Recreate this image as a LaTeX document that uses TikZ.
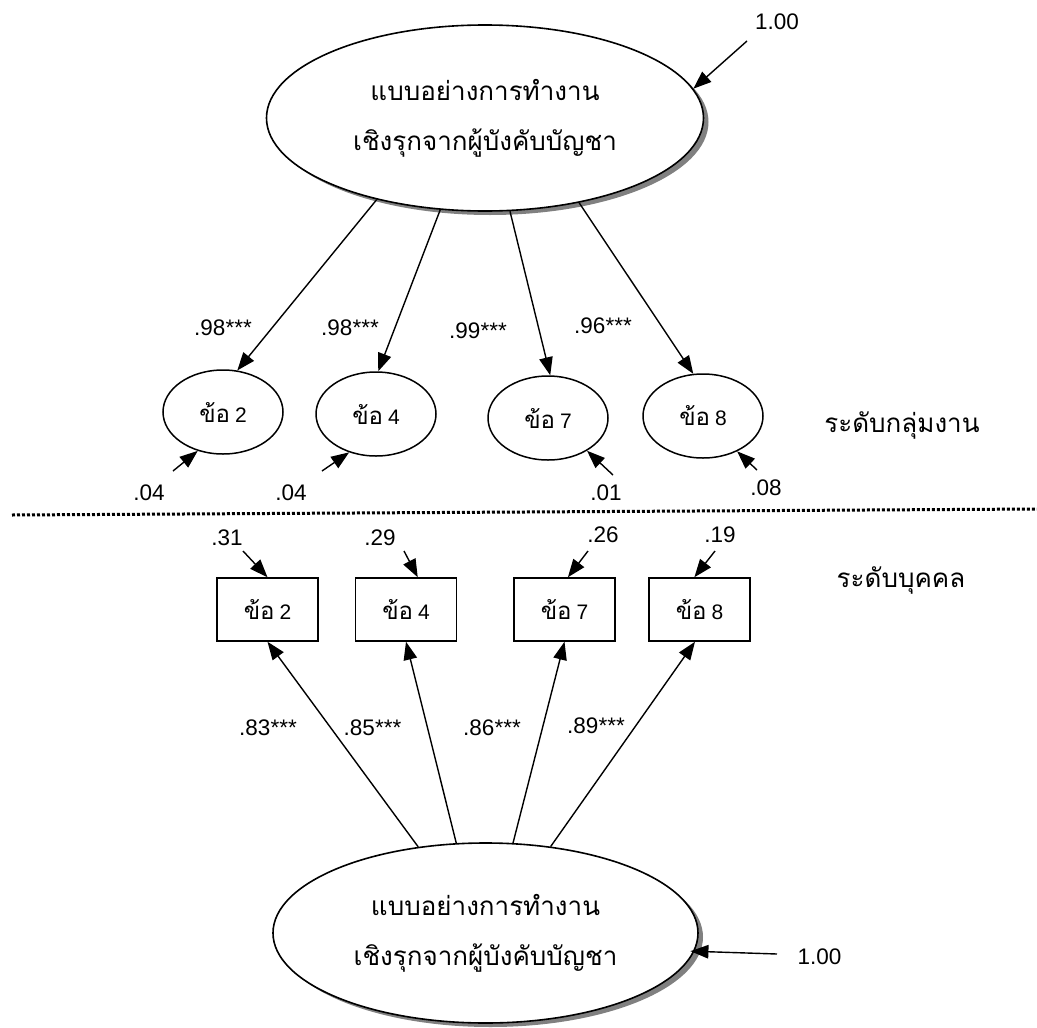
\documentclass[tikz,border=0pt]{standalone}
\usepackage{fontspec}
\setmainfont{Liberation Sans}
\newfontfamily\thaifont[Script=Thai]{Loma}
\usetikzlibrary{arrows.meta,shapes.geometric,shadows}
\newcommand{\khoitem}[1]{{\thaifont\fontsize{24}{26}\selectfont ข้อ}\hspace{5pt}{\fontsize{21}{24}\selectfont #1}}
\begin{document}
\begin{tikzpicture}[x=1pt,y=-1pt,
  arr/.style={-{Triangle[length=18pt,width=13.5pt]}, line width=1.4pt},
  bigell/.style={ellipse, draw, line width=1.6pt, fill=white, inner sep=0pt,
    drop shadow={shadow xshift=5pt, shadow yshift=-4pt, fill=black!50, opacity=1},
    align=center, font=\thaifont\fontsize{26}{50}\selectfont},
  smallell/.style={ellipse, draw, line width=1.5pt, minimum width=120pt, minimum height=84pt, inner sep=0pt},
  obsbox/.style={rectangle, draw, line width=1.5pt, minimum width=101pt, minimum height=63pt, inner sep=0pt},
  num/.style={font=\fontsize{22.5}{27}\selectfont, anchor=base, inner sep=0pt},
  thlab/.style={font=\thaifont\fontsize{26}{30}\selectfont, anchor=base, inner sep=0pt},
]
\path[use as bounding box] (0,0) rectangle (1037,1028);

% ---------- group level ----------
\node[bigell, minimum width=437pt, minimum height=186pt] (top) at (485,118)
  {แบบอย่างการทำงาน\\เชิงรุกจากผู้บังคับบัญชา};
\node[num] (e0) at (777,29) {1.00};
\coordinate (t0) at (747,41);
\draw[arr] (t0) -- (top.8.4);

\node[smallell] (g2) at (223,412) {\khoitem{2}};
\node[smallell] (g4) at (376,414) {\khoitem{4}};
\node[smallell] (g7) at (548,418) {\khoitem{7}};
\node[smallell] (g8) at (703,416) {\khoitem{8}};

\draw[arr] (top.217.8) -- (g2.71.6);
\draw[arr] (top.244.9) -- (g4.87);
\draw[arr] (top.285.9) -- (g7.87.5);
\draw[arr] (top.318.6) -- (g8.103.7);

\node[num] (l2) at (223,335) {.98***};
\node[num] (l4) at (350,335) {.98***};
\node[num] (l7) at (478,338) {.99***};
\node[num] (l8) at (603,333) {.96***};

\node[num] (r2) at (149,500) {.04};
\node[num] (r4) at (291,500) {.04};
\node[num] (r7) at (606,500) {.01};
\node[num] (r8) at (766,495) {.08};
\coordinate (u2) at (173,471);
\coordinate (u4) at (322,471);
\coordinate (u7) at (613,475);
\coordinate (u8) at (757,470);
\draw[arr] (u2) -- (g2.237);
\draw[arr] (u4) -- (g4.235.6);
\draw[arr] (u7) -- (g7.320);
\draw[arr] (u8) -- (g8.314);

\node[thlab] (lvl1) at (902,432) {ระดับกลุ่มงาน};

% ---------- separator ----------
\coordinate (sepL) at (12,515);
\coordinate (sepR) at (1037,509);
\draw[line width=3pt, dash pattern=on 3pt off 2pt] (sepL) -- (sepR);

% ---------- individual level ----------
\node[thlab] (lvl2) at (901,587) {ระดับบุคคล};

\node[obsbox] (i2) at (267.5,609.5) {\khoitem{2}};
\node[obsbox] (i4) at (406,609.5) {\khoitem{4}};
\node[obsbox] (i7) at (564.5,609.5) {\khoitem{7}};
\node[obsbox] (i8) at (699.5,609.5) {\khoitem{8}};

\node[num] (q2) at (227,545) {.31};
\node[num] (q4) at (380,545) {.29};
\node[num] (q7) at (603,542) {.26};
\node[num] (q8) at (720,542) {.19};
\coordinate (v2) at (243,551);
\coordinate (v4) at (404,551);
\coordinate (v7) at (588,551);
\coordinate (v8) at (715,551);
\draw[arr] (v2) -- (i2.north);
\draw[arr] (v4) -- (i4.70.7);
\draw[arr] (v7) -- (i7.84.6);
\draw[arr] (v8) -- (i8.99);

\node[bigell, minimum width=425pt, minimum height=180pt] (bot) at (485.5,933)
  {แบบอย่างการทำงาน\\เชิงรุกจากผู้บังคับบัญชา};

\draw[arr] (bot.128.9) -- (i2.south);
\draw[arr] (bot.108.9) -- (i4.south);
\draw[arr] (bot.73.5) -- (i7.south);
\draw[arr] (bot.53.05) -- (i8.262);

\node[num] (m2) at (268,735) {.83***};
\node[num] (m4) at (372.5,735) {.85***};
\node[num] (m7) at (492,735) {.86***};
\node[num] (m8) at (596,733) {.89***};

\node[num] (e1) at (819.5,964) {1.00};
\coordinate (t1) at (777,954);
\draw[arr, shorten >=-4pt] (t1) -- (bot.-5.8);
\end{tikzpicture}
\end{document}
